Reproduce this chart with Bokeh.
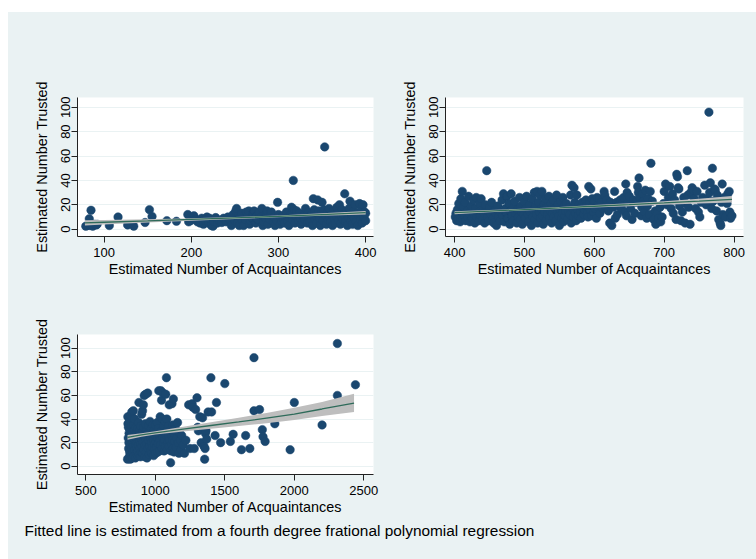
from bokeh.plotting import figure
from bokeh.models import Range1d, FixedTicker, Label, Spacer
from bokeh.layouts import column, row
from bokeh.embed import file_html
from bokeh.resources import INLINE

BG = "#EAF2F3"
NAVY = "#1A476F"
FITC = "#2E6B5A"
BAND = "#BEBEBE"
FONT = "Liberation Sans"

x_label = "Estimated Number of Acquaintances"
y_label = "Estimated Number Trusted"
note = "Fitted line is estimated from a fourth degree frational polynomial regression"

y_ticks = [0, 20, 40, 60, 80, 100]
x_ticks_1 = [100, 200, 300, 400]
x_ticks_2 = [400, 500, 600, 700, 800]
x_ticks_3 = [500, 1000, 1500, 2000, 2500]

# ---- Panel 1: acquaintances up to 400 ----
acq_1 = [79, 81, 83, 84, 85, 87, 89, 91, 92, 106, 116, 127, 134, 147, 152, 155, 172, 183, 196, 197, 199, 203, 205, 207,
         210, 212, 214, 216, 218, 220, 221, 223, 225, 226, 228, 230, 232, 235, 237, 240, 242, 244,
         246, 248, 250, 251, 252, 253, 255, 256, 258, 259, 260, 262, 263, 265, 266, 267, 268, 270, 271, 272, 274, 275,
         276, 278, 280, 281, 282, 283, 285, 286, 287, 288, 290, 291, 292, 294, 295, 296, 298, 299, 300,
         302, 303, 304, 305, 306, 307, 309, 310, 311, 312, 314, 315, 316, 317, 318, 319, 320, 321, 323, 324, 325, 326,
         328, 329, 330, 331, 333, 334, 335, 336, 338, 339, 340, 341, 342, 343, 344, 345, 346, 347, 348, 349, 350, 351,
         352, 353, 354, 355, 356, 357, 358, 359, 360, 361, 362, 363, 364, 365, 366, 367, 368, 369, 370, 371, 372, 373,
         374, 375, 376, 377, 378, 379, 380, 381, 382, 383, 384, 385, 386, 387, 388, 389, 390, 391, 392, 393, 394, 395,
         396, 397, 398, 399, 400, 400]
trust_1 = [2.5, 3, 8.5, 3, 15.5, 2.5, 4, 3.5, 4, 3, 10, 3.5, 2.5, 5.5, 16, 10.5, 7, 6.5, 12, 6, 7, 11, 8, 6,
           5, 9, 4, 7, 10, 5, 9, 3, 2.5, 6, 9.5, 5, 7, 5.5, 9, 6, 10, 8,
           3, 12, 7, 15, 17, 5, 3, 10, 13, 6, 3, 8, 14, 11, 15, 4, 7, 9, 13, 15, 5, 11,
           8, 14, 10, 17, 3, 6, 9, 12, 15, 4, 8, 13, 14, 6, 10, 3, 7, 22, 12,
           4, 9, 6, 11, 8, 5, 14, 7, 10, 3, 12, 18, 8, 40, 16, 5, 11, 15, 7, 13, 9, 4,
           6, 11, 8, 17, 5, 14, 10, 6, 12, 3, 25, 16, 8, 11, 5, 24, 15, 9, 3, 13, 22, 7,
           16, 67.5, 11, 4, 14, 8, 17, 10, 6, 12, 3, 15, 9, 5, 11, 18, 13, 7, 20, 4, 10, 16,
           8, 12, 29, 6, 14, 3, 10, 17, 23, 7, 12, 4, 15, 9, 20, 6, 13, 3, 11, 21, 8, 16,
           5, 20, 10, 14, 7, 13]
fit_x_1 = [78, 100, 150, 200, 250, 300, 350, 400]
fit_y_1 = [5.2, 5.7, 6.8, 8.0, 9.2, 10.5, 12.0, 13.5]
fit_lo_1 = [3.0, 3.8, 5.5, 7.0, 8.4, 9.7, 11.0, 12.0]
fit_hi_1 = [7.4, 7.6, 8.1, 9.0, 10.0, 11.3, 13.0, 15.0]

# ---- Panel 2: acquaintances 400-800 ----
acq_2 = [401, 402, 403, 404, 405, 406, 407, 408, 409, 410, 411, 412, 413, 414, 415, 416, 418, 419, 420, 421, 422, 424,
         425, 427, 428, 429, 430, 431, 432, 434, 435, 436, 437, 438, 440, 441, 442, 443, 444, 446, 447, 448, 449, 450,
         452, 453, 455, 456, 458, 459, 460, 462, 463, 465, 466, 468, 469, 470, 471, 473, 474, 475, 476, 478, 479, 480,
         481, 482, 484, 485, 486, 487, 489, 490, 491, 493, 494, 495, 496, 497, 499, 500,
         501, 502, 503, 505, 506, 507, 508, 510, 511, 512, 513, 514, 515, 516, 517, 518, 519, 520, 521, 522, 523, 524,
         525, 526, 527, 528, 529, 530, 531, 532, 533, 535, 536, 537, 538, 539, 540, 541, 542, 543, 545, 546, 547, 548,
         549, 550, 551, 552, 553, 554, 555, 556, 557, 558, 559, 560, 562, 563, 564, 565, 566, 567, 568, 569, 570, 571,
         572, 573, 574, 575, 576, 577, 578, 580, 581, 582, 583, 585, 586, 588, 589, 590, 591, 592, 593, 594, 595, 596,
         597, 598, 599, 600, 601, 603, 604, 605, 607, 608, 610, 612, 614, 615, 616, 618, 620, 622, 623, 625, 627, 629,
         630, 632, 633, 635, 637, 639, 640, 642, 644, 645, 646, 647, 648, 650, 652, 654, 656, 658, 660, 662, 663, 664,
         665, 667, 668, 669, 670, 672, 673, 675, 676, 677, 679, 680, 681, 683, 685, 687, 688, 690, 692, 694, 695, 697,
         699, 700, 702, 704, 706, 708, 710, 712, 713, 715, 717, 718, 719, 720, 721, 722, 724, 726, 728, 730, 731, 733,
         734, 735, 737, 738, 740, 742, 743, 745, 747, 749, 751, 753, 755, 758, 760, 762, 764, 765, 766, 768, 769, 770,
         772, 773, 775, 776, 778, 780, 781, 782, 783, 784, 786, 788, 790, 791, 793, 794, 795, 797]
trust_2 = [10, 13, 7, 16, 9, 21, 12, 6, 25, 14, 31, 8, 18, 11, 22, 7, 15, 10, 27, 13, 6, 19,
           9, 24, 12, 5, 17, 26, 10, 14, 7, 21, 11, 25, 8, 16, 13, 5, 20, 48, 10, 15, 7, 18,
           12, 22, 9, 5, 16, 13, 3, 19, 10, 7, 14, 24, 11, 29, 6, 17, 13, 27, 9, 21, 4, 15,
           29, 11, 7, 18, 23, 13, 5, 16, 10, 26, 8, 19, 14, 4, 12, 22,
           9, 17, 27, 12, 6, 20, 14, 3, 25, 10, 16, 30, 8, 19, 12, 31, 5, 22, 14, 28, 9, 17,
           31, 11, 4, 20, 14, 25, 7, 18, 12, 27, 9, 15, 21, 5, 13, 24, 10, 17, 7, 28, 14, 20,
           11, 3, 16, 23, 9, 13, 26, 6, 19, 11, 15, 21, 8, 14, 18, 12, 28, 5, 36, 17, 10, 34,
           22, 13, 7, 28, 16, 11, 20, 14, 9, 18, 22, 12, 16, 24, 19, 13, 10, 35, 21, 16, 33, 11,
           25, 19, 14, 23, 17, 9, 26, 20, 25, 13, 22, 17, 31, 28, 19, 24, 15, 5, 22, 3, 18, 31,
           9, 22, 12, 19, 24, 17, 21, 26, 14, 37, 11, 30, 22, 27, 17, 8, 24, 13, 22, 35, 30, 42,
           26, 11, 18, 29, 23, 14, 32, 9, 19, 25, 12, 31, 54, 23, 8, 15, 4, 13, 9, 18, 6, 10,
           21, 31, 37, 20, 26, 35, 17, 29, 13, 24, 8, 45, 43, 34, 33, 19, 7, 14, 26, 5, 21, 48,
           28, 18, 4, 30, 34, 32, 25, 17, 31, 14, 10, 22, 26, 36, 20, 25, 96, 30, 38, 17, 50, 23,
           33, 32, 15, 28, 8, 5, 3, 22, 37, 12, 26, 10, 21, 29, 31, 14, 9, 11]
fit_x_2 = [400, 450, 500, 550, 600, 650, 700, 750, 797]
fit_y_2 = [13.5, 14.8, 16.1, 17.4, 18.8, 20.1, 21.5, 23.0, 24.5]
fit_lo_2 = [12.3, 13.9, 15.4, 16.6, 17.8, 18.9, 20.0, 21.0, 21.8]
fit_hi_2 = [14.7, 15.7, 16.8, 18.2, 19.8, 21.3, 23.0, 25.0, 27.2]

# ---- Panel 3: acquaintances above 800 ----
acq_3 = [800, 802, 803, 805, 806, 808, 810, 811, 812, 814, 815, 817, 818, 820, 822, 823, 825, 826, 828, 829, 831, 832,
         834, 835, 837, 838, 840, 842, 843, 845, 846, 848, 850, 852, 853, 855, 857, 858, 860, 862, 864, 866, 867, 869,
         871, 873, 874, 876, 878, 880, 882, 883, 885, 887, 889, 891, 893, 895, 896, 898, 900, 902, 904, 906, 908, 910,
         912, 914, 916, 918, 920, 922, 924, 926, 928, 930, 932, 934, 936, 938, 940, 942, 945, 947, 950, 952, 955, 958,
         960, 962, 965, 968, 970, 972, 975, 978, 980, 983, 985, 988, 990, 993, 995, 998, 1000, 1003, 1005, 1008, 1010,
         1013, 1015, 1018, 1020, 1022, 1025, 1027, 1030, 1033, 1035, 1038, 1040, 1043, 1045, 1048, 1050, 1053, 1055,
         1058, 1060, 1063, 1065, 1068, 1070, 1072, 1075, 1078, 1080, 1083, 1085, 1088, 1090, 1093, 1095, 1098, 1100,
         1103, 1105, 1110, 1113, 1115, 1118, 1120, 1123, 1125, 1128, 1130, 1133, 1135, 1140, 1145, 1150, 1155, 1160,
         1165, 1170, 1175, 1180, 1185, 1190, 1200, 1210, 1220, 1240, 1250, 1265, 1270, 1280, 1290, 1300, 1305, 1310,
         1320, 1330, 1340, 1350, 1355, 1358, 1360, 1365, 1370, 1380, 1400, 1405, 1440, 1430, 1470, 1500, 1540, 1560,
         1620, 1650, 1680, 1710, 1710, 1750, 1770, 1775, 1790, 1860, 1970, 2000, 2100, 2200, 2310, 2310, 2440]
trust_3 = [6, 42, 36, 24, 33, 15, 20, 28, 8, 38, 12, 25, 31, 6, 18, 43, 22, 10, 34, 27, 46, 15,
           20, 7, 29, 12, 24, 47, 35, 17, 9, 30, 22, 14, 40, 26, 7, 19, 33, 11, 24, 16, 28, 20,
           9, 32, 13, 25, 18, 37, 54, 10, 22, 30, 15, 26, 8, 19, 34, 12, 23, 44, 17, 29, 47, 11,
           21, 52, 33, 14, 60, 25, 8, 18, 36, 61, 23, 12, 30, 19, 7, 27, 62, 15, 34, 22, 10, 28,
           17, 38, 24, 13, 32, 20, 11, 27, 16, 35, 22, 9, 30, 19, 14, 26, 35, 11, 21, 29, 16,
           37, 24, 12, 19, 32, 64, 27, 13, 22, 42, 18, 64, 30, 56, 15, 40, 25, 62,
           20, 34, 13, 28, 22, 38, 17, 61, 26, 75, 40, 14, 31, 20, 25, 34, 17, 52,
           22, 30, 3, 13, 26, 19, 53, 22, 35, 15, 57, 28, 12, 21, 32, 16, 24, 37,
           20, 11, 28, 22, 14, 26, 18, 11, 22, 52, 15, 53, 50, 15, 48, 58, 33, 30,
           42, 20, 41, 17, 6, 15, 28, 30, 23, 46, 75, 46, 54, 26, 20, 70, 21, 27,
           14, 26, 15, 92, 47, 48, 31, 25, 21, 36, 14, 54, 47, 35, 104, 60, 69]
fit_x_3 = [800, 900, 1000, 1200, 1400, 1600, 1800, 2000, 2200, 2430]
fit_y_3 = [24.5, 26.5, 28.2, 31.5, 34.5, 37.5, 40.8, 44.2, 48.5, 53.5]
fit_lo_3 = [22.5, 25.0, 26.8, 29.5, 31.8, 34.0, 36.5, 39.2, 42.5, 46.0]
fit_hi_3 = [26.5, 28.0, 29.6, 33.5, 37.3, 41.0, 45.2, 49.5, 54.5, 61.5]


def panel(xs, ys, fx, fy, flo, fhi, xr, yr, xticks, w, h, bl, br, bt, bb):
    p = figure(width=w, height=h, x_range=Range1d(*xr), y_range=Range1d(*yr),
               output_backend="svg", toolbar_location=None,
               min_border_left=bl, min_border_right=br, min_border_top=bt, min_border_bottom=bb)
    p.background_fill_color = "white"
    p.border_fill_color = BG
    p.outline_line_color = None
    p.xgrid.visible = False
    p.ygrid.ticker = FixedTicker(ticks=y_ticks)
    p.ygrid.grid_line_color = BG
    p.ygrid.grid_line_width = 1
    p.xaxis.ticker = FixedTicker(ticks=xticks)
    p.yaxis.ticker = FixedTicker(ticks=y_ticks)
    p.xaxis.axis_label = x_label
    p.yaxis.axis_label = y_label
    for ax in (p.xaxis, p.yaxis):
        ax.axis_line_color = "#222222"
        ax.major_tick_line_color = "#222222"
        ax.major_tick_out = 6
        ax.major_tick_in = 0
        ax.minor_tick_line_color = None
        ax.major_label_text_font = FONT
        ax.major_label_text_font_size = "13px"
        ax.major_label_text_color = "black"
        ax.axis_label_text_font = FONT
        ax.axis_label_text_font_size = "14.4px"
        ax.axis_label_text_font_style = "normal"
        ax.axis_label_text_color = "black"
    p.yaxis.major_label_orientation = "vertical"
    p.yaxis.major_label_standoff = 1
    p.yaxis.axis_label_standoff = 9
    p.xaxis.major_label_standoff = 5
    p.xaxis.axis_label_standoff = 1
    p.scatter(xs, ys, size=8.5, fill_color=NAVY, line_color=NAVY, line_width=0.5)
    p.varea(x=fx, y1=flo, y2=fhi, fill_color=BAND)
    p.line(fx, fy, line_color=FITC, line_width=1.3)
    return p


p1 = panel(acq_1, trust_1, fit_x_1, fit_y_1, fit_lo_1, fit_hi_1, (69.5, 409), (-6, 108), x_ticks_1,
           390, 288, 69, 25, 85, 64)
p2 = panel(acq_2, trust_2, fit_x_2, fit_y_2, fit_lo_2, fit_hi_2, (387, 813.5), (-6, 108), x_ticks_2,
           358, 288, 47, 13, 85, 64)
p3 = panel(acq_3, trust_3, fit_x_3, fit_y_3, fit_lo_3, fit_hi_3, (440, 2570), (-7, 111.6), x_ticks_3,
           390, 219, 69, 25, 34, 45)

filler = figure(width=358, height=219, output_backend="svg", toolbar_location=None,
                x_axis_location=None, y_axis_location=None, min_border=0)
filler.background_fill_color = BG
filler.border_fill_color = BG
filler.outline_line_color = None
filler.grid.visible = False

pn = figure(width=748, height=40, x_range=Range1d(0, 748), y_range=Range1d(0, 40),
            output_backend="svg", toolbar_location=None,
            x_axis_location=None, y_axis_location=None, min_border=0)
pn.background_fill_color = BG
pn.border_fill_color = BG
pn.outline_line_color = None
pn.grid.visible = False
pn.add_layout(Label(x=16, y=29, text=note, text_font=FONT, text_font_size="15.4px",
                    text_color="black", text_baseline="alphabetic"))

inner = column(row(p1, p2, styles={"background-color": BG}),
               row(p3, filler, styles={"background-color": BG}),
               pn, styles={"background-color": BG})
layout = column(Spacer(width=756, height=12), row(Spacer(width=8, height=547), inner))

with open("out.html", "w") as f:
    f.write(file_html(layout, INLINE))
